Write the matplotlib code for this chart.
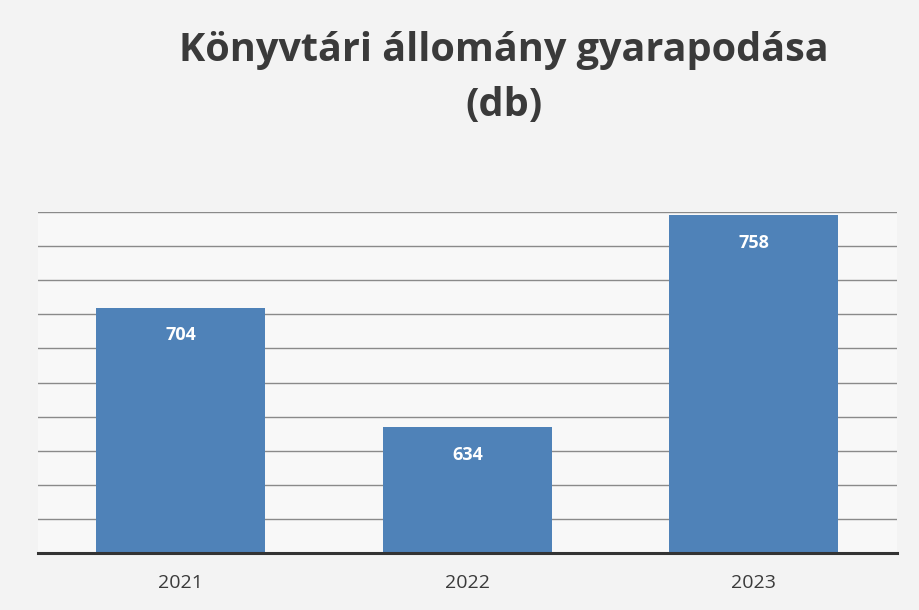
import matplotlib
matplotlib.use("Agg")
import matplotlib.pyplot as plt
import numpy as np

years = ["2021", "2022", "2023"]
values = [704, 634, 758]
title = "Könyvtári állomány gyarapodása\n(db)"

fig = plt.figure(figsize=(9.19, 6.10), dpi=100, facecolor="#f3f3f3")
ax = fig.add_axes([0.041, 0.0934, 0.935, 0.559])
ax.set_facecolor("#f8f8f8")

x = np.arange(len(years))
bars = ax.bar(x, values, width=0.59, color="#4f82b8", zorder=3)
ax.set_xlim(-0.5, 2.5)
ax.set_ylim(560, 760)
ax.set_yticks(np.arange(560, 761, 20))
ax.yaxis.grid(True, color="#8a8a8a", lw=1.0, zorder=0)
ax.tick_params(axis="y", left=False, labelleft=False)
ax.set_xticks(x)
ax.set_xticklabels(years, fontsize=14, color="#3a3a3a",
                   family=["Open Sans", "DejaVu Sans"])
ax.tick_params(axis="x", length=0, pad=15)
for s in ["top", "right", "left"]:
    ax.spines[s].set_visible(False)
ax.spines["bottom"].set_color("#333333")
ax.spines["bottom"].set_linewidth(2.2)
ax.spines["bottom"].set_zorder(4)

for b, v in zip(bars, values):
    ax.annotate(str(v), (b.get_x() + b.get_width() / 2, v), xytext=(0, -20),
                textcoords="offset points", ha="center", va="center",
                color="white", fontsize=13, fontweight="bold",
                family=["Open Sans", "DejaVu Sans"], zorder=5)

fig.text(0.548, 0.872, title, ha="center", va="center", fontsize=28.5,
         fontweight="bold", color="#3a3a3a", family=["Open Sans", "DejaVu Sans"],
         linespacing=1.55)

fig.savefig("out.png", dpi=100, facecolor=fig.get_facecolor())
